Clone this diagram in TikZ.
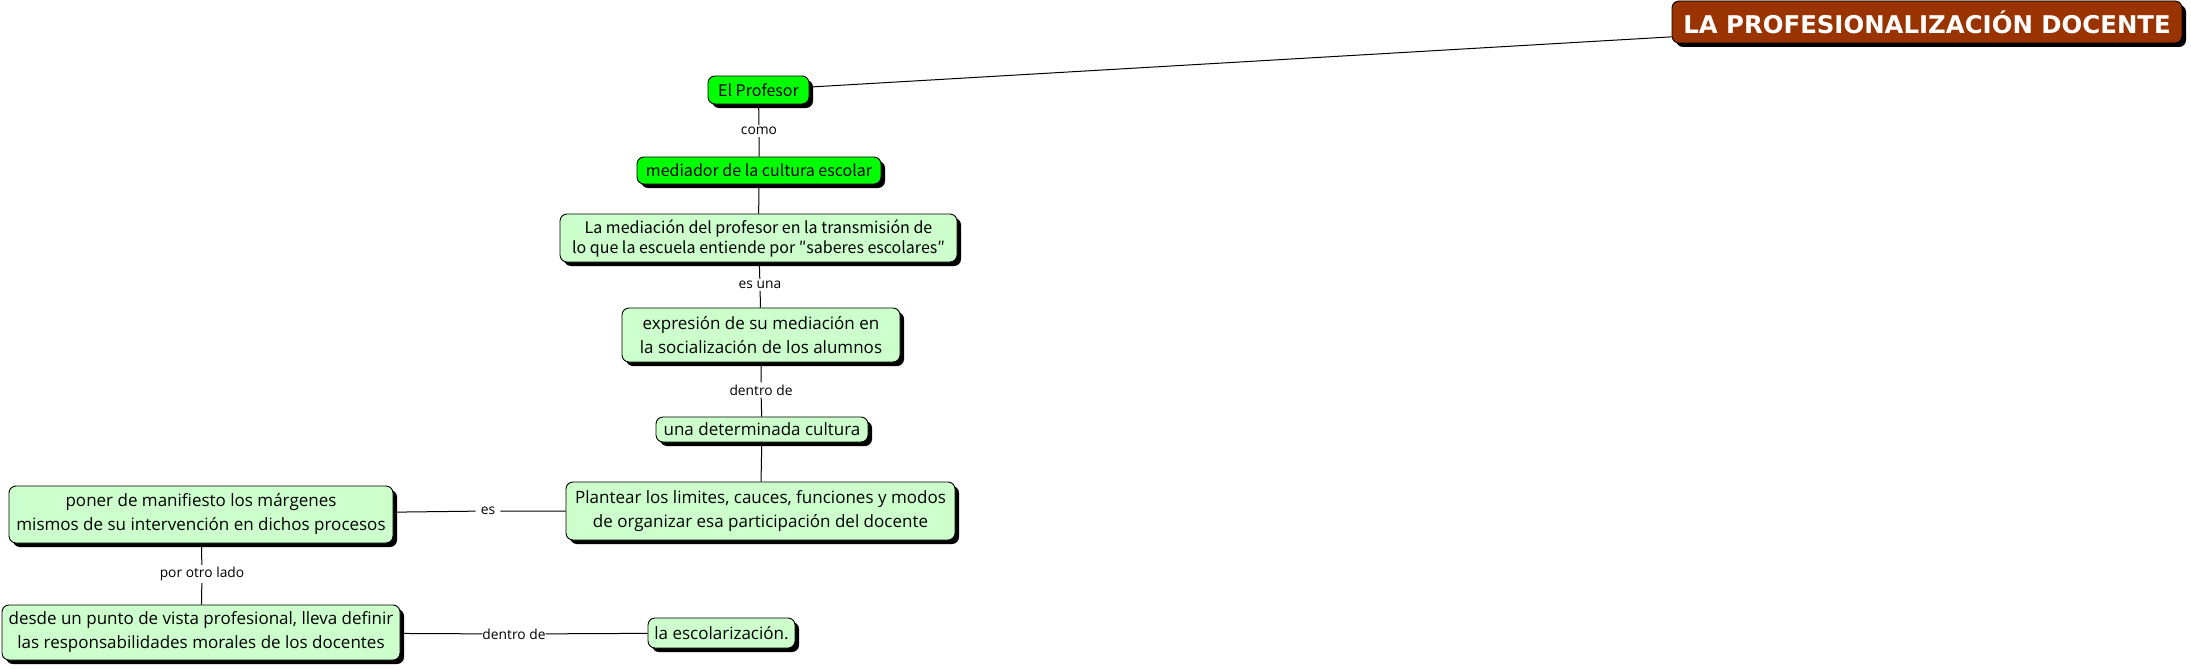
\documentclass[tikz,border=0pt]{standalone}
\usepackage{fontspec}
\setmainfont{Open Sans}
\newfontfamily\gothic{Noto Sans CJK JP}
\newfontfamily\titlefont{DejaVu Sans}
\usetikzlibrary{shadows}
\definecolor{titlebrown}{HTML}{993300}
\definecolor{brightgreen}{HTML}{00FF00}
\definecolor{palegreen}{HTML}{CCFFCC}
\tikzset{
  concept/.style={draw=black, line width=0.9pt, rounded corners=7pt, align=center, inner sep=0pt,
    drop shadow={shadow xshift=4pt, shadow yshift=-4pt, fill=black, opacity=1}},
  pale/.style={concept, fill=palegreen, font=\fontsize{17}{24}\selectfont},
  palegoth/.style={concept, fill=palegreen, font=\gothic\fontsize{16}{20}\selectfont},
  bright/.style={concept, fill=brightgreen, font=\gothic\fontsize{16}{20}\selectfont},
  titlebox/.style={concept, fill=titlebrown, text=white, font=\titlefont\bfseries\fontsize{24.4}{28}\selectfont},
  linklabel/.style={fill=white, inner sep=2pt, font=\fontsize{13.8}{16}\selectfont},
  conn/.style={draw=black, line width=1pt}
}
\begin{document}
\begin{tikzpicture}[x=1pt,y=-1pt]
\useasboundingbox (0,0) rectangle (2191,669);
\node[titlebox, minimum width=510pt, minimum height=42pt] (title) at (1927,22) {LA PROFESIONALIZACIÓN DOCENTE};
\node[bright, minimum width=101pt, minimum height=28pt] (prof) at (758.5,90) {El Profesor};
\node[bright, minimum width=244pt, minimum height=27pt] (med) at (759,170.5) {mediador de la cultura escolar};
\node[palegoth, minimum width=397pt, minimum height=48pt] (lamed) at (758.5,238) {La mediación del profesor en la transmisión de\\lo que la escuela entiende por ″saberes escolares″};
\node[pale, minimum width=278pt, minimum height=54pt] (expr) at (761,335) {expresión de su mediación en\\la socialización de los alumnos};
\node[pale, minimum width=212pt, minimum height=25pt] (una) at (762,429.5) {una determinada cultura};
\node[pale, minimum width=389pt, minimum height=58pt] (plan) at (760.5,511) {Plantear los limites, cauces, funciones y modos\\de organizar esa participación del docente};
\node[pale, minimum width=384pt, minimum height=57pt] (poner) at (201,514.5) {poner de manifiesto los márgenes\\mismos de su intervención en dichos procesos};
\node[pale, minimum width=398pt, minimum height=55pt] (desde) at (201,632.5) {desde un punto de vista profesional, lleva definir\\las responsabilidades morales de los docentes};
\node[pale, minimum width=147pt, minimum height=30pt] (escol) at (721.5,633) {la escolarización.};

\node[linklabel] (l1) at (759,131) {como};
\node[linklabel] (l2) at (760,285) {es una};
\node[linklabel] (l3) at (761,390) {dentro de};
\node[linklabel, inner xsep=5pt] (l4) at (488,511) {es};
\node[linklabel] (l5) at (202,574) {por otro lado};
\node[linklabel, inner xsep=0pt] (l6) at (514,634) {dentro de};

\draw[conn] (prof) -- (title);
\draw[conn] (prof) -- (l1) -- (med);
\draw[conn] (med) -- (lamed);
\draw[conn] (lamed) -- (l2) -- (expr);
\draw[conn] (expr) -- (l3) -- (una);
\draw[conn] (una) -- (plan);
\draw[conn] (plan) -- (l4) -- (poner);
\draw[conn] (poner) -- (l5) -- (desde);
\draw[conn] (desde) -- (l6) -- (escol);
\end{tikzpicture}
\end{document}
